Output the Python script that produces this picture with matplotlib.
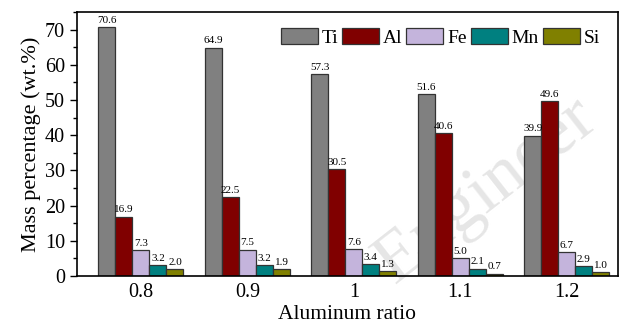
import numpy as np
import matplotlib.pyplot as plt
from matplotlib.ticker import MultipleLocator

plt.rcParams['font.family'] = ['Liberation Serif', 'DejaVu Serif']

ratios = ['0.8', '0.9', '1', '1.1', '1.2']
elements = ['Ti', 'Al', 'Fe', 'Mn', 'Si']
ti = [70.6, 64.9, 57.3, 51.6, 39.9]
al = [16.9, 22.5, 30.5, 40.6, 49.6]
fe = [7.3, 7.5, 7.6, 5.0, 6.7]
mn = [3.2, 3.2, 3.4, 2.1, 2.9]
si = [2.0, 1.9, 1.3, 0.7, 1.0]
colors = ['#808080', '#800000', '#c4b4dc', '#008080', '#808000']

series = [ti, al, fe, mn, si]

fig = plt.figure(figsize=(6.24, 3.27), dpi=100)
ax = fig.add_axes([77/624, 51/327, 541/624, 264/327])
ax.patch.set_alpha(0)

x = np.arange(len(ratios))
w = 0.16
for i, (vals, name, c) in enumerate(zip(series, elements, colors)):
    pos = x + (i - 2) * w
    ax.bar(pos, vals, width=w, color=c, edgecolor='#333333', linewidth=0.9,
           label=name, zorder=2)
    for p, v in zip(pos, vals):
        ax.text(p, v + 0.6, f'{v:.1f}', ha='center', va='bottom', fontsize=8, zorder=3)

ax.set_xlim(-0.6, 4.48)
ax.set_ylim(0, 75)
ax.set_xticks(x)
ax.set_xticklabels(ratios)
ax.yaxis.set_major_locator(MultipleLocator(10))
ax.yaxis.set_minor_locator(MultipleLocator(5))
ax.tick_params(axis='y', which='major', direction='out', length=5, width=1, labelsize=14.5)
ax.tick_params(axis='y', which='minor', direction='out', length=3, width=1)
ax.tick_params(axis='x', length=0, labelsize=14.5, pad=5)
for s in ax.spines.values():
    s.set_linewidth(1.2)

ax.set_xlabel('Aluminum ratio', fontsize=15.5, labelpad=2)
ax.set_ylabel('Mass percentage (wt.%)', fontsize=16, labelpad=3)

ax.legend(loc='upper right', ncol=5, frameon=False, fontsize=14,
          handlelength=1.9, handleheight=0.95, handletextpad=0.2,
          columnspacing=0.2, borderaxespad=0.4, bbox_to_anchor=(0.995, 1.0))

# faint watermark behind the bars
fig.text(0.78, 0.42, 'Engineer', fontsize=52, rotation=38, color='#e6e6e6',
         ha='center', va='center', zorder=-1)

fig.savefig('out.png', dpi=100)
